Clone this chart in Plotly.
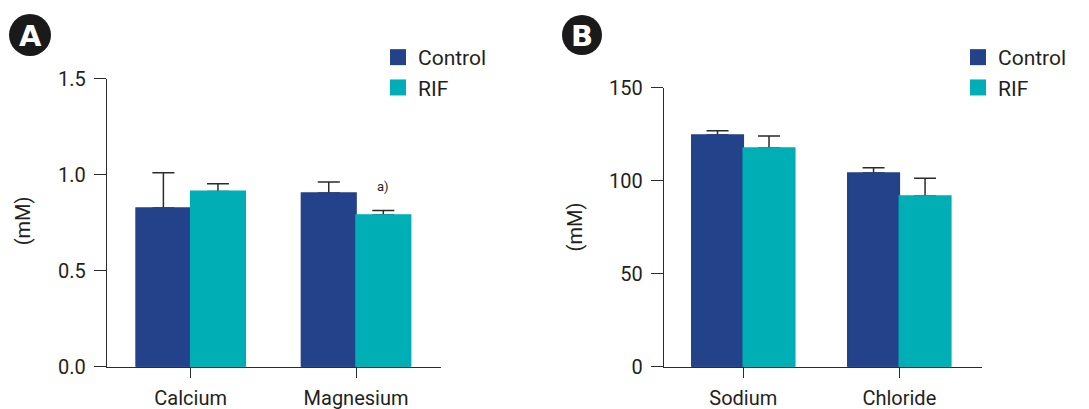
import plotly.graph_objects as go

# ---------------- data ----------------
cats_A = ["Calcium", "Magnesium"]
control_A = [0.826, 0.905]
control_A_err = [0.184, 0.057]
rif_A = [0.913, 0.790]
rif_A_err = [0.040, 0.023]

cats_B = ["Sodium", "Chloride"]
control_B = [124.6, 104.1]
control_B_err = [2.3, 2.9]
rif_B = [117.6, 91.8]
rif_B_err = [6.4, 9.5]

ticks_A = [0.0, 0.5, 1.0, 1.5]
ticklabels_A = ["0.0", "0.5", "1.0", "1.5"]
ticks_B = [0, 50, 100, 150]
ticklabels_B = ["0", "50", "100", "150"]

series_names = ["Control", "RIF"]
# --------------------------------------

W, H = 1089, 409
C_CTRL = "#234289"
C_RIF = "#00AEB5"
TXT = "#231F20"
AX = "#2b2b2b"
FONT = "Roboto, 'Open Sans', sans-serif"


def px_x(p):
    return p / W


def px_y(p):
    return 1 - p / H


fig = go.Figure()


def err(arr):
    return dict(type="data", symmetric=False, array=arr, arrayminus=[0] * len(arr),
                color=AX, thickness=1.5, width=11)


panels = [
    ("x", "y", cats_A, control_A, control_A_err, rif_A, rif_A_err),
    ("x2", "y2", cats_B, control_B, control_B_err, rif_B, rif_B_err),
]

for xa, ya, cats, cv, ce, rv, re_ in panels:
    # bars carrying the (upward) error bars
    for nm, vals, errs, col, og in ((series_names[0], cv, ce, C_CTRL, "ctrl"),
                                    (series_names[1], rv, re_, C_RIF, "rif")):
        fig.add_trace(go.Bar(x=cats, y=vals, name=nm, marker_color=col,
                             marker_line_width=0, error_y=err(errs), showlegend=False,
                             offsetgroup=og, xaxis=xa, yaxis=ya, hoverinfo="skip"))
    # same bars drawn again on top so only the upper half of each error bar shows
    for nm, vals, col, og in ((series_names[0], cv, C_CTRL, "ctrl"),
                              (series_names[1], rv, C_RIF, "rif")):
        fig.add_trace(go.Bar(x=cats, y=vals, name=nm, marker_color=col,
                             marker_line=dict(width=1.6, color=col), showlegend=False,
                             offsetgroup=og, xaxis=xa, yaxis=ya))

# legend entries (square icons)
for lg, xa, ya in (("legend", "x", "y"), ("legend2", "x2", "y2")):
    for nm, col in zip(series_names, [C_CTRL, C_RIF]):
        fig.add_trace(go.Scatter(x=[None], y=[None], mode="markers", name=nm,
                                 marker=dict(symbol="square", size=18, color=col),
                                 legend=lg, xaxis=xa, yaxis=ya, showlegend=True))

xdomA = [px_x(107), px_x(440.7)]
ydomA = [px_y(366.7), px_y(78.7)]
xdomB = [px_x(664), px_x(981.7)]
ydomB = [px_y(366.7), px_y(87.7)]

common_x = dict(showline=True, linecolor=AX, linewidth=1.3, ticks="outside", ticklen=10,
                tickwidth=1.3, tickcolor=AX, showgrid=False, zeroline=False, automargin=False,
                ticklabelstandoff=3,
                tickfont=dict(size=20, color=TXT, family=FONT), fixedrange=True)
common_y = dict(showline=True, linecolor=AX, linewidth=1.3, ticks="outside", ticklen=12,
                tickwidth=1.3, tickcolor=AX, showgrid=False, zeroline=False, automargin=False,
                ticklabelstandoff=4,
                tickfont=dict(size=20, color=TXT, family=FONT), fixedrange=True)

leg_common = dict(font=dict(size=21, color=TXT, family=FONT), bgcolor="rgba(0,0,0,0)",
                  xanchor="left", yanchor="top", itemsizing="trace", tracegroupgap=0)

fig.update_layout(
    template="none",
    width=W, height=H,
    margin=dict(l=0, r=0, t=0, b=0, pad=0, autoexpand=False),
    paper_bgcolor="white", plot_bgcolor="white",
    barmode="group", bargap=0.34, bargroupgap=0,
    xaxis=dict(domain=xdomA, anchor="y", range=[-0.506, 1.512], **common_x),
    yaxis=dict(domain=ydomA, anchor="x", range=[0, 1.5], tickvals=ticks_A,
               ticktext=ticklabels_A, **common_y),
    xaxis2=dict(domain=xdomB, anchor="y2", range=[-0.508, 1.528], **common_x),
    yaxis2=dict(domain=ydomB, anchor="x2", range=[0, 150], tickvals=ticks_B,
                ticktext=ticklabels_B, **common_y),
    legend=dict(x=px_x(378), y=px_y(37), **leg_common),
    legend2=dict(x=px_x(958), y=px_y(37), **leg_common),
    showlegend=True,
)

# panel badges
for cx, cy, r, letter in ((30, 35, 21, "A"), (582, 35, 20, "B")):
    fig.add_shape(type="circle", xref="paper", yref="paper",
                  x0=px_x(cx - r), x1=px_x(cx + r), y0=px_y(cy + r), y1=px_y(cy - r),
                  fillcolor="#1a1a1a", line=dict(width=0))
    fig.add_annotation(x=px_x(cx), y=px_y(cy + 1), xref="paper", yref="paper",
                       text=f"<b>{letter}</b>", showarrow=False,
                       font=dict(size=29, color="white", family="'DejaVu Sans', sans-serif"),
                       xanchor="center", yanchor="middle")

# y-axis titles
fig.add_annotation(x=px_x(23.3), y=px_y(221), xref="paper", yref="paper", text="(mM)",
                   textangle=-90, showarrow=False, xanchor="center", yanchor="middle",
                   font=dict(size=20, color=TXT, family=FONT))
fig.add_annotation(x=px_x(574.7), y=px_y(226.7), xref="paper", yref="paper", text="(mM)",
                   textangle=-90, showarrow=False, xanchor="center", yanchor="middle",
                   font=dict(size=20, color=TXT, family=FONT))

# significance mark
fig.add_annotation(x=1, y=0.936, xref="x", yref="y", xshift=27, text="a)", showarrow=False,
                   font=dict(size=13, color=TXT, family=FONT), yanchor="middle")

fig.write_html("out.html", config={"displayModeBar": False},
               post_script="document.body.style.margin='0';")
